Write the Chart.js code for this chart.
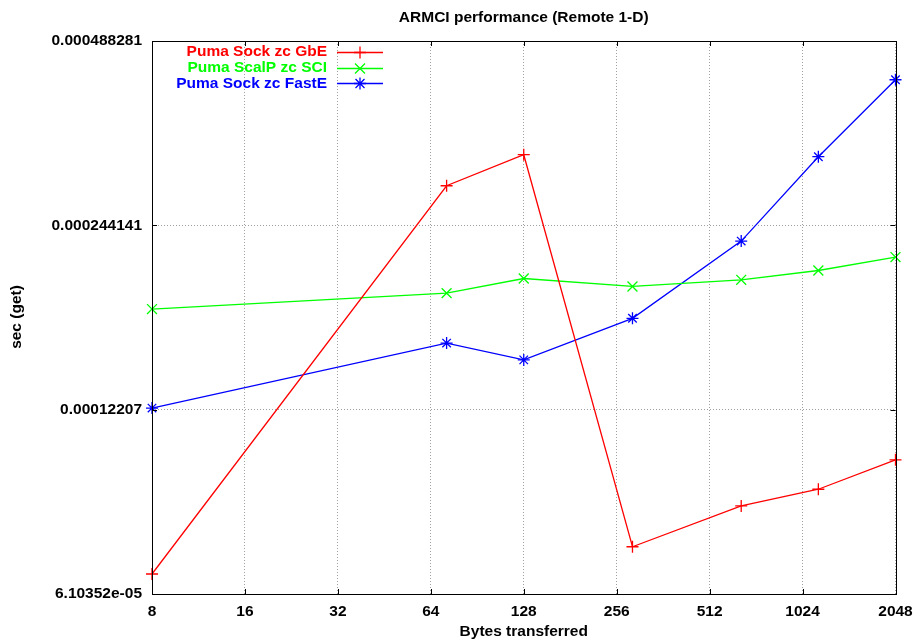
<!DOCTYPE html>
<html>
<head>
<meta charset="utf-8">
<script src="https://cdn.jsdelivr.net/npm/chart.js@4.4.0/dist/chart.umd.min.js"></script>
<style>
  html, body { margin: 0; padding: 0; background: #fff; }
</style>
</head>
<body>
<canvas id="chart" width="915" height="640"></canvas>
<script>
// message sizes (bytes) and get times (sec)
const bytes = [8, 72, 128, 288, 648, 1152, 2048];
const sockGbE = [6.58e-05, 2.833e-04, 3.184e-04, 7.29e-05, 8.50e-05, 9.05e-05, 1.011e-04];
const scalpSCI = [1.782e-04, 1.892e-04, 1.999e-04, 1.940e-04, 1.989e-04, 2.060e-04, 2.167e-04];
const sockFastE = [1.228e-04, 1.568e-04, 1.472e-04, 1.721e-04, 2.301e-04, 3.160e-04, 4.221e-04];

const seriesNames = ['Puma Sock zc GbE', 'Puma ScalP zc SCI', 'Puma Sock zc FastE'];
const seriesColors = ['#ff0000', '#00ff00', '#0000ff'];
const seriesMarks = ['cross', 'crossRot', 'star'];

const xTicks = [8, 16, 32, 64, 128, 256, 512, 1024, 2048];
const yTicks = [6.10352e-05, 0.00012207, 0.000244141, 0.000488281];
const yTickLabels = ['6.10352e-05', '0.00012207', '0.000244141', '0.000488281'];

const FONT = '"Liberation Sans", Arial, Helvetica, sans-serif';
const FS = 15.5;
const LW = 1.3;

const toPoints = (ys) => bytes.map((b, i) => ({ x: b, y: ys[i] }));

function mark(ctx, style, x, y) {
  ctx.beginPath();
  if (style === 'cross' || style === 'star') {
    ctx.moveTo(x - 6, y); ctx.lineTo(x + 6, y);
    ctx.moveTo(x, y - 6); ctx.lineTo(x, y + 6);
  }
  if (style === 'crossRot' || style === 'star') {
    const d = style === 'star' ? 4.5 : 5;
    ctx.moveTo(x - d, y - d); ctx.lineTo(x + d, y + d);
    ctx.moveTo(x - d, y + d); ctx.lineTo(x + d, y - d);
  }
  ctx.stroke();
}

const gnuplotLook = {
  id: 'gnuplotLook',
  afterDraw(chart) {
    const ctx = chart.ctx;
    const a = chart.chartArea;
    const xs = chart.scales.x, ys = chart.scales.y;
    ctx.save();

    // inner tick marks
    ctx.strokeStyle = '#000';
    ctx.lineWidth = 1;
    ctx.beginPath();
    xTicks.forEach(v => {
      const px = Math.round(xs.getPixelForValue(v)) + 0.5;
      ctx.moveTo(px, a.bottom); ctx.lineTo(px, a.bottom - 5);
      ctx.moveTo(px, a.top); ctx.lineTo(px, a.top + 5);
    });
    yTicks.forEach(v => {
      const py = Math.round(ys.getPixelForValue(v)) + 0.5;
      ctx.moveTo(a.left, py); ctx.lineTo(a.left + 5, py);
      ctx.moveTo(a.right, py); ctx.lineTo(a.right - 5, py);
    });
    ctx.stroke();

    // frame
    ctx.strokeRect(Math.round(a.left) + 0.5, Math.round(a.top) + 0.5,
      Math.round(a.right - a.left), Math.round(a.bottom - a.top));

    // title + axis titles
    ctx.fillStyle = '#000';
    ctx.font = 'bold ' + FS + 'px ' + FONT;
    ctx.textAlign = 'center';
    ctx.textBaseline = 'middle';
    const cx = (a.left + a.right) / 2;
    ctx.fillText('ARMCI performance (Remote 1-D)', cx, 18);
    ctx.fillText('Bytes transferred', cx, 632);
    ctx.save();
    ctx.translate(17, 317);
    ctx.rotate(-Math.PI / 2);
    ctx.fillText('sec (get)', 0, 0);
    ctx.restore();

    // legend, gnuplot style: text right aligned, sample on the right
    ctx.textAlign = 'right';
    ctx.lineWidth = LW;
    seriesNames.forEach((name, i) => {
      const y = 52 + i * 15.7;
      ctx.fillStyle = seriesColors[i];
      ctx.fillText(name, 327, y);
      ctx.strokeStyle = seriesColors[i];
      ctx.beginPath();
      ctx.moveTo(337, Math.round(y) + 0.5);
      ctx.lineTo(383, Math.round(y) + 0.5);
      ctx.stroke();
      mark(ctx, seriesMarks[i], 360, Math.round(y) + 0.5);
    });
    ctx.restore();
  }
};

const datasets = [sockGbE, scalpSCI, sockFastE].map((ys, i) => ({
  label: seriesNames[i],
  data: toPoints(ys),
  showLine: true,
  borderColor: seriesColors[i],
  backgroundColor: seriesColors[i],
  borderWidth: LW,
  pointStyle: seriesMarks[i],
  pointRadius: seriesMarks[i] === 'crossRot' ? 7 : 6,
  pointBorderWidth: LW,
  pointHoverRadius: 6,
  tension: 0,
  clip: false
}));

new Chart(document.getElementById('chart'), {
  type: 'scatter',
  data: { datasets },
  plugins: [gnuplotLook],
  options: {
    responsive: false,
    animation: false,
    events: [],
    layout: { padding: { left: 0, right: 19.5, top: 41, bottom: 0 } },
    plugins: {
      legend: { display: false },
      title: { display: false },
      tooltip: { enabled: false }
    },
    scales: {
      x: {
        type: 'logarithmic',
        min: 8,
        max: 2048,
        afterBuildTicks: (scale) => { scale.ticks = xTicks.map(v => ({ value: v })); },
        afterFit: (scale) => {
          scale.height = 46;
          scale.paddingLeft = 0;
          scale.paddingRight = 0;
        },
        grid: { color: '#a0a0a0', lineWidth: 1, drawTicks: false },
        border: { display: false, dash: [1, 2] },
        ticks: {
          autoSkip: false,
          maxRotation: 0,
          padding: 8,
          color: '#000',
          font: { family: FONT, size: FS, weight: 'bold' },
          callback: (v) => String(v)
        }
      },
      y: {
        type: 'logarithmic',
        min: yTicks[0],
        max: yTicks[yTicks.length - 1],
        afterBuildTicks: (scale) => { scale.ticks = yTicks.map(v => ({ value: v })); },
        afterFit: (scale) => {
          scale.width = 152;
          scale.paddingTop = 0;
          scale.paddingBottom = 0;
        },
        grid: { color: '#a0a0a0', lineWidth: 1, drawTicks: false },
        border: { display: false, dash: [1, 2] },
        ticks: {
          padding: 10,
          color: '#000',
          font: { family: FONT, size: FS, weight: 'bold' },
          callback: (v, i) => yTickLabels[i]
        }
      }
    }
  }
});
</script>
</body>
</html>
